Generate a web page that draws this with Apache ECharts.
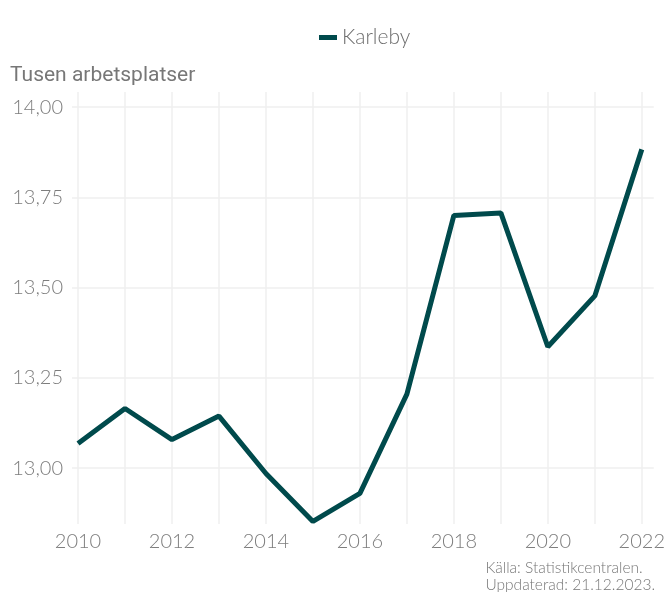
<!DOCTYPE html>
<html>
<head>
<meta charset="utf-8">
<script src="https://cdn.jsdelivr.net/npm/echarts@6/dist/echarts.min.js"></script>
<style>
  html, body { margin: 0; padding: 0; background: #fff; }
  #chart { width: 668px; height: 592px; }
</style>
</head>
<body>
<div id="chart"></div>
<script>
// data
const years = [2010, 2011, 2012, 2013, 2014, 2015, 2016, 2017, 2018, 2019, 2020, 2021, 2022]
const karleby = [13.068, 13.165, 13.079, 13.144, 12.985, 12.852, 12.93, 13.205, 13.70, 13.707, 13.336, 13.477, 13.883]
const yTicks = [13.0, 13.25, 13.5, 13.75, 14.0]
const xLabelYears = [2010, 2012, 2014, 2016, 2018, 2020, 2022]

const chart = echarts.init(document.getElementById('chart'))

const options = {
  animation: false,
  title: {
    text: 'Tusen arbetsplatser',
    left: 10,
    top: 65,
    padding: 0,
    textStyle: {
      fontFamily: 'Roboto',
      fontWeight: 'normal',
      fontSize: 21,
      color: '#777777'
    }
  },
  legend: {
    left: 314,
    top: 22,
    itemWidth: 18,
    itemHeight: 5,
    itemGap: 10,
    icon: 'rect',
    textStyle: {
      fontFamily: 'Lato',
      fontWeight: 300,
      fontSize: 21,
      color: '#6e6e6e'
    },
    data: ['Karleby']
  },
  grid: {
    left: 72,
    right: 14,
    top: 92,
    bottom: 68,
    containLabel: false
  },
  xAxis: {
    type: 'value',
    min: 2009.872,
    max: 2022.255,
    axisLine: { show: false },
    axisTick: { show: false, customValues: years },
    splitLine: { show: true, lineStyle: { color: '#efefef', width: 1.5 } },
    axisLabel: {
      customValues: xLabelYears,
      margin: 8,
      fontFamily: 'Lato',
      fontWeight: 300,
      fontSize: 20,
      color: '#7d7d7d',
      formatter: v => String(v)
    }
  },
  yAxis: {
    type: 'value',
    min: 12.845,
    max: 14.042,
    axisLine: { show: false },
    axisTick: { show: false, customValues: yTicks },
    splitLine: { show: true, lineStyle: { color: '#efefef', width: 1.5 } },
    axisLabel: {
      customValues: yTicks,
      margin: 9,
      fontFamily: 'Lato',
      fontWeight: 300,
      fontSize: 20,
      color: '#7d7d7d',
      formatter: v => v.toFixed(2).replace('.', ',')
    }
  },
  graphic: [{
    type: 'text',
    right: 13,
    top: 559,
    style: {
      text: 'Källa: Statistikcentralen.\nUppdaterad: 21.12.2023.',
      align: 'right',
      fontFamily: 'Lato',
      fontWeight: 300,
      fontSize: 15.5,
      lineHeight: 17,
      fill: '#777777'
    }
  }],
  series: [{
    name: 'Karleby',
    type: 'line',
    data: years.map((y, i) => [y, karleby[i]]),
    symbol: 'none',
    lineStyle: { width: 5, color: '#004a4c' },
    itemStyle: { color: '#004a4c' }
  }]
}
chart.setOption(options)
</script>
</body>
</html>
